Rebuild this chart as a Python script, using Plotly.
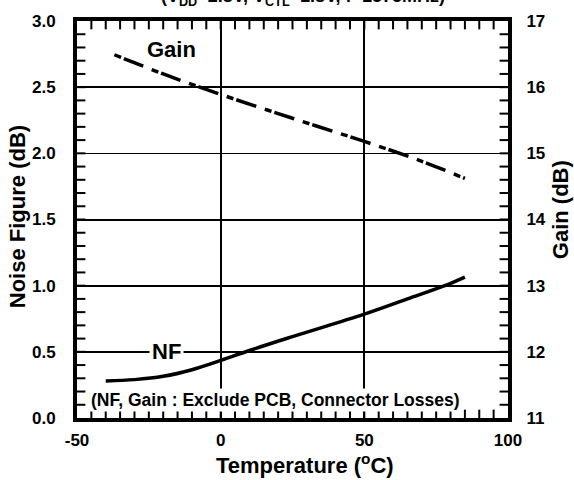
import plotly.graph_objects as go

# Data
nf_temp = [-40, -30, -20, -10, 0, 10, 25, 50, 65, 78, 85]
nf_vals = [0.28, 0.29, 0.315, 0.365, 0.435, 0.51, 0.615, 0.785, 0.90, 1.00, 1.065]

gain_temp = [-37, -20, 0, 25, 50, 70, 85]
gain_vals = [16.49, 16.20, 15.89, 15.53, 15.18, 14.88, 14.62]

x_ticks = [-50, 0, 50, 100]
x_ticktext = ["-50", "0", "50", "100"]
nf_ticks = [0.0, 0.5, 1.0, 1.5, 2.0, 2.5, 3.0]
gain_ticks = [11, 12, 13, 14, 15, 16, 17]
thick_grid = [0.5, 1.0, 1.5, 2.5]
thin_grid = [2.0]

# minor tick positions (axis decoration)
x_minor = [-50 + 5 * i for i in range(1, 30)]
nf_minor = [round(0.1 * i, 1) for i in range(1, 30)]

X_RANGE = [-50, 100]
Y_RANGE = [0, 3]
W, H = 574, 480
ML, MR, MT, MB = 77, 66, 15, 62
plot_w = W - ML - MR
plot_h = H - MT - MB
TICK_PX = 7
dx = (X_RANGE[1] - X_RANGE[0]) / plot_w * TICK_PX / 2
dy = (Y_RANGE[1] - Y_RANGE[0]) / plot_h * TICK_PX / 2

FONT = "Liberation Sans, Arial, sans-serif"
tick_font = dict(family=FONT, size=17, color="black", weight="bold")

fig = go.Figure()
fig.add_trace(go.Scatter(x=nf_temp, y=nf_vals, mode="lines", yaxis="y",
                         line=dict(color="black", width=3.5, shape="spline"),
                         showlegend=False, hoverinfo="skip"))
fig.add_trace(go.Scatter(x=gain_temp, y=gain_vals, mode="lines", yaxis="y2",
                         line=dict(color="black", width=3.5, shape="spline",
                                   dash="7px,3px,21px,9px"),
                         showlegend=False, hoverinfo="skip"))
# anchors for grid-only axes
fig.add_trace(go.Scatter(x=[None], y=[None], yaxis="y3", showlegend=False, hoverinfo="skip"))
fig.add_trace(go.Scatter(x=[None], y=[None], yaxis="y4", showlegend=False, hoverinfo="skip"))

# inside minor ticks along bottom and top frame
fig.add_trace(go.Scatter(
    x=x_minor + x_minor,
    y=[Y_RANGE[0] + dy] * len(x_minor) + [Y_RANGE[1] - dy] * len(x_minor),
    mode="markers", yaxis="y", cliponaxis=False, showlegend=False, hoverinfo="skip",
    marker=dict(symbol="line-ns-open", size=TICK_PX, color="black",
                line=dict(color="black", width=2))))
# inside minor ticks along left and right frame
fig.add_trace(go.Scatter(
    x=[X_RANGE[0] + dx] * len(nf_minor) + [X_RANGE[1] - dx] * len(nf_minor),
    y=nf_minor + nf_minor,
    mode="markers", yaxis="y", cliponaxis=False, showlegend=False, hoverinfo="skip",
    marker=dict(symbol="line-ew-open", size=TICK_PX, color="black",
                line=dict(color="black", width=2))))

fig.update_layout(
    width=W, height=H,
    margin=dict(l=ML, r=MR, t=MT, b=MB),
    paper_bgcolor="white", plot_bgcolor="white",
    font=dict(family=FONT, color="black"),
    xaxis=dict(range=X_RANGE, tickmode="array", tickvals=x_ticks, ticktext=x_ticktext,
               ticks="", showline=True, linewidth=4, linecolor="black", mirror=True,
               showgrid=True, gridcolor="black", gridwidth=2, zeroline=False,
               tickfont=tick_font, ticklabelstandoff=4),
    yaxis=dict(range=Y_RANGE, tickmode="array", tickvals=nf_ticks, tickformat=".1f",
               ticks="", showline=True, linewidth=4, linecolor="black",
               showgrid=False, zeroline=False, tickfont=tick_font, ticklabelstandoff=14),
    yaxis2=dict(range=[11, 17], tickmode="array", tickvals=gain_ticks,
                overlaying="y", side="right", ticks="",
                showline=True, linewidth=4, linecolor="black", showgrid=False,
                zeroline=False, tickfont=tick_font, ticklabelstandoff=11),
    yaxis3=dict(range=Y_RANGE, tickmode="array", tickvals=thick_grid, overlaying="y",
                showticklabels=False, ticks="", showline=False, zeroline=False,
                showgrid=True, gridcolor="black", gridwidth=2),
    yaxis4=dict(range=Y_RANGE, tickmode="array", tickvals=thin_grid, overlaying="y",
                showticklabels=False, ticks="", showline=False, zeroline=False,
                showgrid=True, gridcolor="black", gridwidth=1),
)

ann_font = dict(family=FONT, size=22, color="black", weight="bold")
fig.add_annotation(x=-17, y=2.785, xref="x", yref="y", text="Gain", showarrow=False,
                   font=ann_font, xanchor="center", yanchor="middle")
fig.add_annotation(x=-19, y=0.5, xref="x", yref="y", text="NF", showarrow=False,
                   font=ann_font, bgcolor="white", borderpad=2,
                   xanchor="center", yanchor="middle")
fig.add_annotation(x=0.4606, y=0.045, xref="paper", yref="paper",
                   xanchor="center", yanchor="middle",
                   text="(NF, Gain : Exclude PCB, Connector Losses)", showarrow=False,
                   font=dict(family=FONT, size=17.5, color="black", weight="bold"),
                   bgcolor="white", borderpad=1)
# title (cut off at the top edge)
fig.add_annotation(x=0.524, y=1, xref="paper", yref="paper", xanchor="center",
                   yanchor="bottom", yshift=10,
                   text="(V<sub>DD</sub>=2.8V, V<sub>CTL</sub>=1.8V, f=1575MHz)",
                   showarrow=False,
                   font=dict(family=FONT, size=18, color="black", weight="bold"))
# axis titles
fig.add_annotation(x=-0.139, y=0.506, xref="paper", yref="paper", text="Noise Figure (dB)",
                   textangle=-90, showarrow=False, font=ann_font,
                   xanchor="center", yanchor="middle")
fig.add_annotation(x=1.1206, y=0.526, xref="paper", yref="paper", text="Gain (dB)",
                   textangle=-90, showarrow=False, font=ann_font,
                   xanchor="center", yanchor="middle")
fig.add_annotation(x=0.529, y=-0.116, xref="paper", yref="paper",
                   xanchor="center", yanchor="middle",
                   text="Temperature (<sup>o</sup>C)", showarrow=False, font=ann_font)

fig.write_html("out.html")
